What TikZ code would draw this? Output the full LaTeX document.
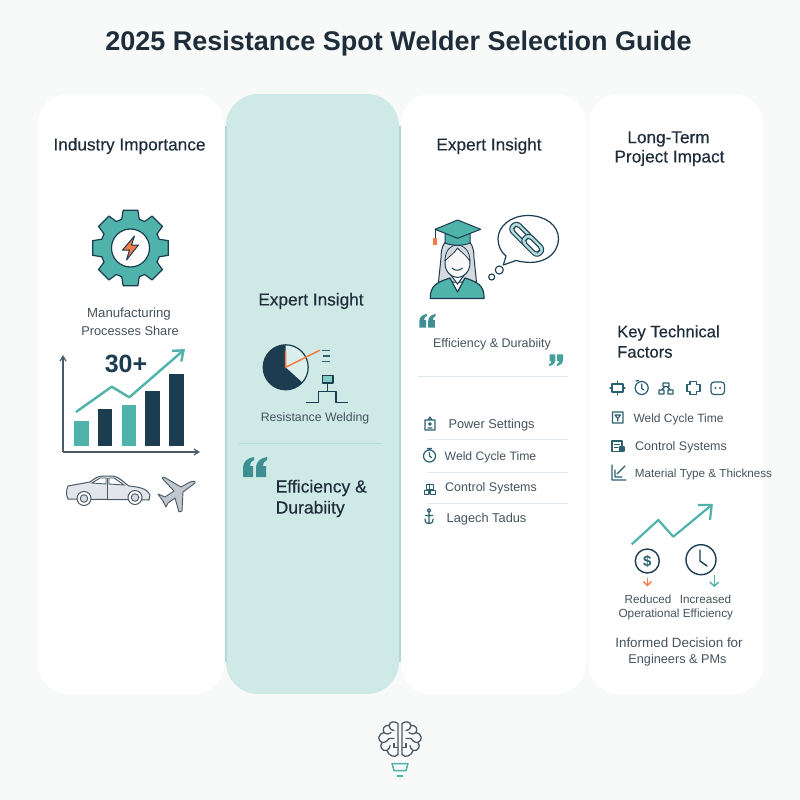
\documentclass[tikz,border=0pt]{standalone}
\usepackage{fontspec}
\setmainfont{Liberation Sans}
\newfontfamily\medf[FakeBold=0.35]{Liberation Sans}
\usetikzlibrary{arrows.meta}
\definecolor{bgc}{HTML}{F8FAFA}
\definecolor{ink}{HTML}{1F2D3A}
\definecolor{graytxt}{HTML}{46535E}
\definecolor{navy}{HTML}{1C3C50}
\definecolor{teal}{HTML}{4FB3AC}
\definecolor{tealdk}{HTML}{3F8F92}
\definecolor{icon}{HTML}{2A6070}
\definecolor{orng}{HTML}{F47B45}
\definecolor{rule}{HTML}{DFE8EE}
\definecolor{silver}{HTML}{D5DAE0}
\definecolor{slate}{HTML}{4A5A66}
\definecolor{panel}{HTML}{CEE9E6}
\definecolor{seam}{HTML}{B2D9D6}
\newcommand{\fs}[1]{\fontsize{#1}{#1}\selectfont}
\tikzset{
  card/.style={fill=white,rounded corners=30pt,draw=none},
  head/.style={font=\medf\fs{17.2},text=ink,inner sep=0pt},
  lab/.style={font=\fs{12.5},text=graytxt,inner sep=0pt},
  hair/.style={draw=rule,line width=.9pt},
  ic/.style={draw=icon,line width=1.2pt,fill=none,line join=round,line cap=round},
  dk/.style={draw=navy,line width=1.2pt,line join=round},
  qmark/.pic={
    \foreach \d in {0,13}{
    \fill[pic actions,xshift=\d pt] (11,0) .. controls (4,1) and (0,5) .. (0,11) -- (0,20) -- (10,20) -- (10,9) -- (7,9) .. controls (7,6) and (8,4) .. (11,3) -- cycle;}
  },
  brainhalf/.pic={
    \draw[pic actions] (-2,-16) .. controls (-6,-19) and (-10,-18) .. (-11,-14)
      .. controls (-16,-15) and (-18,-10) .. (-16,-7)
      .. controls (-22,-6) and (-23,1) .. (-18,3)
      .. controls (-21,7) and (-18,12) .. (-13,11)
      .. controls (-12,16) and (-5,19) .. (-2,15) -- cycle;
    \draw[pic actions] (-11,-14) .. controls (-10,-10) and (-8,-9) .. (-6,-9);
    \draw[pic actions] (-16,-7) .. controls (-13,-5) and (-11,-5) .. (-9,-7);
    \draw[pic actions] (-18,3) .. controls (-14,3) and (-12,1) .. (-11,-1) -- (-6,-1);
    \draw[pic actions] (-13,11) .. controls (-11,9) and (-10,8) .. (-10,6);
    \draw[pic actions] (-2,8) -- (-6,8) -- (-6,4);
  }
}
\begin{document}
\begin{tikzpicture}[x=1pt,y=-1pt]
\useasboundingbox (0,0) rectangle (800,800);
\fill[bgc] (0,0) rectangle (800,800);
\fill[card] (38,94) rectangle (224,694);
\fill[rounded corners=32pt,fill=panel,draw=none] (226,94) rectangle (399,694);
\fill[card] (401,94) rectangle (586,694);
\fill[card] (589,94) rectangle (763,694);
\draw[seam,line width=2pt] (225.5,126) -- (225.5,662) (400,126) -- (400,662);
\node[font=\bfseries\fs{27},text=ink,inner sep=0pt] (title) at (398.5,43.5) {2025 Resistance Spot Welder Selection Guide};

% ---- column 1
\node[head] (h1) at (129.5,146) {Industry Importance};
\begin{scope}[shift={(130.5,248)}]
\draw[fill=teal,draw=navy,line width=1.2pt,line join=round]
  (-11:38.5) \foreach \a in {0,45,...,315}{ -- (\a-11:38.5) -- (\a+11:38.5) -- (\a+17:30) -- (\a+28:30)} -- cycle;
\draw[fill=white,draw=navy,line width=1.2pt] (0,0) circle (19);
\draw[fill=orng,draw=navy,line width=1pt,line join=round] (4,-12) -- (-8,2) -- (-1,2) -- (-4,12) -- (8,-3) -- (1,-3) -- cycle;
\end{scope}
\node[lab,font=\fs{13.2}] (m1) at (129,314) {Manufacturing};
\node[lab,font=\fs{12.8}] (m2) at (130,331) {Processes Share};
% chart
\draw[slate,line width=1.2pt,-{Straight Barb[length=5pt,width=6pt]}] (63,452) -- (63,355);
\draw[slate,line width=1.2pt,-{Straight Barb[length=5pt,width=6pt]}] (63,452) -- (200,452);
\fill[teal] (74.3,421) rectangle (89,446);
\fill[navy] (97.7,409) rectangle (112.3,446);
\fill[teal] (121.7,405) rectangle (136,446);
\fill[navy] (145,391) rectangle (159.7,446);
\fill[navy] (169,374) rectangle (183.7,446);
\draw[teal,line width=2.4pt,line join=round,-{Straight Barb[length=9pt,width=14pt]}] (76,412) -- (111.7,386.7) -- (129.3,397.3) -- (185,349);
\node[font=\bfseries\fs{25},text=navy,inner sep=0pt] (n30) at (126,364) {30+};
% car
\draw[fill=silver!70!white,draw=slate,line width=1pt,line join=round] (68,486) -- (90,482) .. controls (95,478) and (98,476) .. (104,476) -- (113,476) .. controls (120,477) and (124,483) .. (129,486) .. controls (138,487) and (147,488) .. (150,495) -- (149,500) -- (68,499) .. controls (66,495) and (66,490) .. (68,486) -- cycle;
\fill[white] (92,483) -- (100,478) -- (106,478) -- (106,484) -- cycle (109,478) -- (114,478) -- (124,485) -- (109,484) -- cycle;
\draw[slate,line width=.9pt] (92,483) -- (100,478) -- (106,478) -- (106,484) -- cycle (109,478) -- (114,478) -- (124,485) -- (109,484) -- cycle (107.5,478) -- (107.5,500);
\draw[fill=white,draw=slate,line width=1pt] (84,498.5) circle (7) (135,497.5) circle (7);
\fill[silver] (84,498.5) circle (3.8) (135,497.5) circle (3.8);
\draw[slate,line width=.9pt] (84,498.5) circle (3.8) (135,497.5) circle (3.8);
% plane
\draw[fill=silver!85!slate,draw=slate,line width=.9pt,line join=round] (195,483) .. controls (196,481) and (193,481) .. (190,482) -- (181,487) -- (164,477) -- (162,478) -- (174,491) -- (165,497) -- (158,494) -- (163,501) -- (166,507) -- (168,503) -- (175,498) -- (179,512) -- (182,511) -- (183,492) -- cycle;

% ---- column 2
\node[head] (h2) at (311,301) {Expert Insight};
\begin{scope}[shift={(285.7,367.3)}]
\fill[navy] (0,0) circle (22.5);
\fill[panel!75!white] (0,0) -- (0,-22.5) arc[start angle=-90,end angle=42,radius=22.5] -- cycle;
\draw[navy,line width=1.2pt] (0,0) circle (22.5);
\draw[orng,line width=1.5pt,line cap=round] (0,-16) -- (0,0) -- (34,-17);
\end{scope}
\draw[icon,line width=1.2pt] (322,350.7) -- (330,350.7) (323,356) -- (330,356) (322,361.3) -- (330,361.3);
\draw[dk,fill=teal!70!white] (322.3,375.7) rectangle (333,383);
\draw[dk] (327.7,383) -- (327.7,391.7);
\draw[dk] (306.3,402.3) -- (318.3,402.3) -- (318.3,391.7) -- (336,391.7) -- (336,402.3) -- (348,402.3);
\node[lab,font=\fs{12.3}] (r2) at (315,418.5) {Resistance Welding};
\draw[draw=teal!45!white,line width=1pt] (239,443.3) -- (382,443.3);
\pic[fill=tealdk,scale=1] at (243,457) {qmark};
\node[head,anchor=west,font=\medf\fs{17.5}] (e2a) at (275.5,488) {Efficiency \&};
\node[head,anchor=west,font=\medf\fs{17.5}] (e2b) at (275.5,509) {Durabiity};

% ---- column 3
\node[head] (h3) at (489,146) {Expert Insight};
% speech bubble
\draw[fill=white,draw=navy,line width=1.2pt,line join=round] (506,256) -- (503.3,265) -- (516,260.5) .. controls (545,268) and (558.5,252) .. (558.5,239) .. controls (558.5,225) and (545,215.5) .. (528,215.5) .. controls (511,215.5) and (498,226) .. (498,239) .. controls (498,246) and (501,252) .. (506,256) -- cycle;
\draw[navy,line width=1.1pt] (499.3,270) circle (4) (491.7,277) circle (3);
\begin{scope}[shift={(526.7,239.3)},rotate=-45]
\draw[fill=teal!45!white,draw=navy,line width=1pt,rounded corners=6pt] (-21,-6.5) rectangle (4,6.5);
\draw[fill=white,draw=navy,line width=1pt,rounded corners=3pt] (-17,-2.8) rectangle (0,2.8);
\draw[fill=teal!45!white,draw=navy,line width=1pt,rounded corners=6pt] (-4,-6.5) rectangle (21,6.5);
\draw[fill=white,draw=navy,line width=1pt,rounded corners=3pt] (0,-2.8) rectangle (17,2.8);
\end{scope}
% graduate
\draw[fill=silver,draw=navy,line width=1pt,line join=round] (441,258) .. controls (441,245) and (445,238) .. (457.5,238) .. controls (470,238) and (474,245) .. (474,258) -- (476.5,282) -- (438.5,282) -- cycle;
\draw[fill=teal,draw=navy,line width=1.2pt,line join=round] (430.3,298.5) .. controls (430,285) and (438,282) .. (450,278) -- (457.5,292) -- (465,278) .. controls (477,282) and (484.5,285) .. (484,298.5) -- cycle;
\draw[fill=white!85!silver,draw=navy,line width=1pt] (450,274) -- (457.5,284) -- (465,274) -- cycle;
\draw[fill=white!85!silver,draw=navy,line width=1pt] (457.5,263) ellipse (12.5 and 14.5);
\draw[fill=silver,draw=navy,line width=.8pt,line join=round] (445,261) .. controls (445,250) and (451,245) .. (457,245) .. controls (463,245) and (470,250) .. (470,261) .. controls (466,255) and (461,252) .. (457.5,248) .. controls (455,253) and (449,256) .. (445,261) -- cycle;
\draw[navy,line width=1pt] (452,268) .. controls (454,271) and (460,271) .. (462.5,268);
\draw[fill=teal,draw=navy,line width=1pt,line join=round] (445,232) -- (445,243) .. controls (452,246) and (463,246) .. (470,243) -- (470,232) -- cycle;
\draw[fill=teal,draw=navy,line width=1pt,line join=round] (435,229.3) -- (457.7,220) -- (480.7,229.3) -- (457.7,238.3) -- cycle;
\draw[navy,line width=1pt] (435,229.3) -- (435,238);
\fill[orng] (433,238) rectangle (437,244.5);
\pic[fill=tealdk,scale=.68] at (419.3,314) {qmark};
\pic[fill=teal!90!black,scale=.58,rotate=180] at (563,366) {qmark};
\node[lab] (e3) at (492,344.3) {Efficiency \& Durabiity};
\draw[hair] (418,376) -- (568,376);
\node[lab,anchor=west,font=\fs{12.8}] (l1) at (448.3,425) {Power Settings};
\node[lab,anchor=west,font=\fs{12.2}] (l2) at (444.5,457) {Weld Cycle Time};
\node[lab,anchor=west] (l3) at (445,488) {Control Systems};
\node[lab,anchor=west,font=\fs{12.8}] (l4) at (446.5,519.5) {Lagech Tadus};
\draw[hair] (427,439.5) -- (568,439.5) (427,472) -- (568,472) (427,503) -- (568,503);
\draw[ic] (425,420) rectangle (435,430) (428,420) -- (430,417) -- (432,420) (428,428) -- (432,428) (430,424) circle (1.3);
\draw[ic] (429.5,456) circle (6) (429.5,452.5) -- (429.5,456) -- (431.5,457.5) (427.5,448.5) -- (431.5,448.5);
\draw[ic,line width=1pt] (424,490) rectangle (428.5,494) (430,490) rectangle (435,494) (426,484) rectangle (433,489) (429.5,484) -- (429.5,494);
\draw[ic] (429,510.5) circle (1.8) (429,512.5) -- (429,523.5) (425.5,515.5) -- (432.5,515.5) (425,519) .. controls (425,523) and (427,523.5) .. (429,523.5) .. controls (431,523.5) and (433,523) .. (433,519);

% ---- column 4
\node[head] (h4a) at (668.5,139) {Long-Term};
\node[head] (h4b) at (669.5,158) {Project Impact};
\node[head,anchor=west,font=\medf\fs{16.6}] (k1) at (617,333) {Key Technical};
\node[head,anchor=west,font=\medf\fs{16.6}] (k2) at (617,352) {Factors};
% icon row
\draw[ic] (612,384) rectangle (623,392) (617.5,381) -- (617.5,384) (617.5,392) -- (617.5,395) (610,388) -- (612,388) (623,388) -- (625,388);
\draw[ic] (641.7,388) circle (6.5) (641.7,384) -- (641.7,388.5) -- (644,390) (636,381) -- (638.5,380.5);
\draw[ic,line width=1.1pt] (659,390) rectangle (664,394) (668,390) rectangle (673,394) (663,383) rectangle (669,386.5) (661.5,390) -- (665,386.5) (670.5,390) -- (667,386.5);
\draw[ic] (690,381.5) -- (696.5,381.5) -- (696.5,384.5) -- (700,384.5) -- (700,391.5) -- (696.5,391.5) -- (696.5,394.5) -- (690,394.5) -- (690,391.5) -- (687,391.5) -- (687,384.5) -- (690,384.5) -- cycle;
\draw[ic,rounded corners=3pt] (711,382) rectangle (724.5,394.5);
\fill[icon] (715.5,388) circle (1.2) (720,388) circle (1.2);
% row icons
\draw[ic] (612.5,412) rectangle (623,423) (615,415) -- (620.5,415) -- (617.7,418.5) -- cycle (617.7,418.5) -- (617.7,421);
\draw[ic] (612,441) rectangle (622,451.5) (614.5,444.5) -- (619.5,444.5) (614.5,447.5) -- (618,447.5) (620,447) rectangle (624,451);
\draw[ic] (612,465) -- (612,480) -- (626,480) (615,477) -- (615,470) (615,477) -- (622,477) (617,474) -- (625,466);
\node[lab,anchor=west,font=\fs{12}] (t1) at (633.3,419) {Weld Cycle Time};
\node[lab,anchor=west,font=\fs{12.5}] (t2) at (635,447) {Control Systems};
\node[lab,anchor=west,font=\fs{11.7}] (t3) at (634.7,474) {Material Type \& Thickness};
% trend
\draw[teal,line width=2.2pt,line join=round] (631.7,544.3) -- (658.3,520) -- (673.3,536.7) -- (711,505.5);
\draw[teal,line width=2.2pt,line join=round] (698,505) -- (711.7,505) -- (710,520);
\draw[navy,line width=1.4pt] (647.3,561) circle (12);
\node[font=\bfseries\fs{15},text=icon,inner sep=0pt] (dollar) at (647.3,561) {\$};
\draw[navy,line width=1.4pt] (701,559.7) circle (15);
\draw[navy,line width=1.4pt,line cap=round,line join=round] (700,550) -- (700,561) -- (707,566);
\draw[orng,line width=1.4pt,-{Straight Barb[length=4pt,width=8pt]}] (647.3,578) -- (647.3,586.5);
\draw[teal,line width=1.4pt,-{Straight Barb[length=4pt,width=9pt]}] (714.3,575) -- (714.3,587);
\node[lab,font=\fs{11.7}] (red) at (648,599) {Reduced};
\node[lab,font=\fs{11.7}] (inc) at (705.5,599) {Increased};
\node[lab,font=\fs{11.8}] (op) at (675.8,614) {Operational Efficiency};
\node[lab,font=\fs{13.4}] (d1) at (679,643) {Informed Decision for};
\node[lab,font=\fs{12.7}] (d2) at (677.5,660) {Engineers \& PMs};

% ---- brain bulb
\begin{scope}[shift={(400,739.5)}]
\pic[draw=slate,line width=1.3pt,line join=round,line cap=round,fill=none] {brainhalf};
\pic[xscale=-1,draw=slate,line width=1.3pt,line join=round,line cap=round,fill=none] {brainhalf};
\end{scope}
\draw[teal,line width=1.5pt,line join=round] (392,763.5) -- (408,763.5) -- (406,770.5) -- (394,770.5) -- cycle;
\draw[teal,line width=1.3pt] (397,776) -- (403,776);
\end{tikzpicture}
\end{document}
